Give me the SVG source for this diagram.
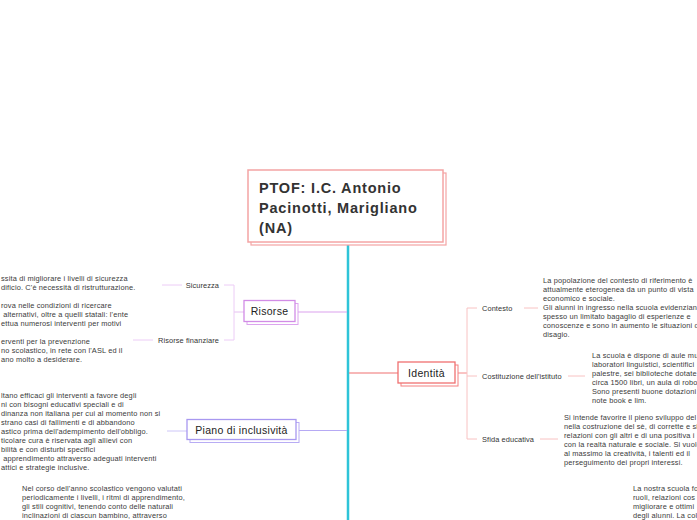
<svg xmlns="http://www.w3.org/2000/svg" width="697" height="520" viewBox="0 0 697 520">
<style>
.t{font-family:"Liberation Sans",Arial,sans-serif;font-size:7.4px;fill:#3a3a3a;letter-spacing:0.15px}
.lab{font-family:"Liberation Sans",Arial,sans-serif;font-size:7.4px;fill:#333;letter-spacing:0.1px}
.node{font-family:"Liberation Sans",Arial,sans-serif;font-size:10.5px;fill:#222;letter-spacing:0.3px;text-anchor:middle}
.title{font-family:"Liberation Sans",Arial,sans-serif;font-size:14.5px;font-weight:bold;fill:#333;letter-spacing:0.8px}
.box{fill:#fff}
.c{fill:none}
</style>
<rect width="697" height="520" fill="#fff"/>
<g id="connectors" class="c">
<line x1="348" y1="243" x2="348" y2="520" stroke="#2ec4d8" stroke-width="2.5"/>
<line x1="349" y1="373" x2="398" y2="373" stroke="#f07070" stroke-width="1.2"/>
<line x1="455" y1="373" x2="467" y2="373" stroke="#f48888" stroke-width="1"/>
<path d="M477 308H467V439H477M467 376H477" stroke="#f8c2c2" stroke-width="1"/>
<line x1="524" y1="308" x2="538" y2="308" stroke="#f8c2c2"/>
<line x1="568" y1="376" x2="585" y2="376" stroke="#f8c2c2"/>
<line x1="540" y1="439" x2="558" y2="439" stroke="#f8c2c2"/>
<line x1="298" y1="312" x2="347" y2="312" stroke="#dba2ee" stroke-width="1.2"/>
<line x1="234" y1="312" x2="244" y2="312" stroke="#e6c0f2"/>
<path d="M224 285H234V340H224" stroke="#ecccf6" stroke-width="1"/>
<line x1="162" y1="285" x2="182" y2="285" stroke="#ecccf6"/>
<line x1="133" y1="340" x2="153" y2="340" stroke="#ecccf6"/>
<line x1="299" y1="430.5" x2="347" y2="430.5" stroke="#b6aaf4" stroke-width="1.2"/>
<line x1="167" y1="431" x2="187" y2="431" stroke="#cdc6f8"/>
</g>
<g id="node-root">
<rect x="251" y="173" width="195" height="72" class="box" stroke="#f4a4a4" stroke-width="1.2"/>
<rect x="248" y="170" width="195" height="72" class="box" stroke="#f4a4a4" stroke-width="1.5"/>
<text class="title" x="259" y="193">PTOF: I.C. Antonio</text>
<text class="title" x="259" y="213">Pacinotti, Marigliano</text>
<text class="title" x="259" y="233">(NA)</text>
</g>
<g id="node-identita">
<rect x="401" y="365" width="57" height="21" class="box" stroke="#f48080" stroke-width="1"/>
<rect x="398" y="362" width="57" height="21" class="box" stroke="#f07070" stroke-width="1.3"/>
<text class="node" x="426.5" y="376.5">Identità</text>
</g>
<g id="node-contesto">
<text class="lab" x="482" y="310.5">Contesto</text>
<text class="t"><tspan x="543" y="282.5">La popolazione del contesto di riferimento è</tspan><tspan x="543" y="291.6">attualmente eterogenea da un punto di vista</tspan><tspan x="543" y="300.7">economico e sociale.</tspan><tspan x="543" y="309.8">Gli alunni in ingresso nella scuola evidenziano</tspan><tspan x="543" y="318.9">spesso un limitato bagaglio di esperienze e</tspan><tspan x="543" y="328">conoscenze e sono in aumento le situazioni di</tspan><tspan x="543" y="337.1">disagio.</tspan></text>
</g>
<g id="node-costituzione">
<text class="lab" x="482" y="378.5">Costituzione dell'istituto</text>
<text class="t"><tspan x="592" y="357.5">La scuola è dispone di aule mu</tspan><tspan x="592" y="366.5">laboratori linguistici, scientifici</tspan><tspan x="592" y="375.5">palestre, sei biblioteche dotate</tspan><tspan x="592" y="384.5">circa 1500 libri, un aula di robo</tspan><tspan x="592" y="393.5">Sono presenti buone dotazioni</tspan><tspan x="592" y="402.5">note book e lim.</tspan></text>
</g>
<g id="node-sfida">
<text class="lab" x="482" y="441.5">Sfida educativa</text>
<text class="t"><tspan x="564" y="419.5">Si intende favorire il pieno sviluppo del</tspan><tspan x="564" y="428.5">nella costruzione del sè, di corrette e si</tspan><tspan x="564" y="437.5">relazioni con gli altri e di una positiva i</tspan><tspan x="564" y="446.5">con la realtà naturale e sociale. Si vuole</tspan><tspan x="564" y="455.5">al massimo la creatività, i talenti ed il</tspan><tspan x="564" y="464.5">perseguimento dei propri interessi.</tspan></text>
</g>
<g id="node-nostra-scuola">
<text class="t"><tspan x="633" y="490.5">La nostra scuola fo</tspan><tspan x="633" y="499.5">ruoli, relazioni cos</tspan><tspan x="633" y="508.5">migliorare e ottimi</tspan><tspan x="633" y="517.5">degli alunni. La col</tspan></text>
</g>
<g id="node-risorse">
<rect x="247" y="303.5" width="51" height="21" class="box" stroke="#dca4ee" stroke-width="1"/>
<rect x="244" y="300.5" width="51" height="21" class="box" stroke="#d28ce6" stroke-width="1.3"/>
<text class="node" x="269.5" y="314.5">Risorse</text>
</g>
<g id="node-sicurezza">
<text class="lab" x="219" y="287.5" text-anchor="end">Sicurezza</text>
<text class="t"><tspan x="1" y="281">ssita di migliorare i livelli di sicurezza</tspan><tspan x="1" y="290">dificio. C'è necessità di ristrutturazione.</tspan></text>
</g>
<g id="node-risorse-finanziare">
<text class="lab" x="219" y="342.5" text-anchor="end">Risorse finanziare</text>
<text class="t"><tspan x="1" y="308">rova nelle condizioni di ricercare</tspan><tspan x="1" y="317"> alternativi, oltre a quelli statali: l'ente</tspan><tspan x="1" y="326">ettua numerosi interventi per motivi</tspan><tspan x="1" y="344">erventi per la prevenzione</tspan><tspan x="1" y="353">no scolastico, in rete con l'ASL ed il</tspan><tspan x="1" y="362">ano molto a desiderare.</tspan></text>
</g>
<g id="node-piano">
<rect x="190" y="422.5" width="109" height="20" class="box" stroke="#b8acf4" stroke-width="1"/>
<rect x="187" y="419.5" width="109" height="20" class="box" stroke="#a898f0" stroke-width="1.3"/>
<text class="node" x="241.5" y="433.5">Piano di inclusività</text>
</g>
<g id="node-piano-text">
<text class="t"><tspan x="1" y="397.5">ltano efficaci gli interventi a favore degli</tspan><tspan x="1" y="406.5">ni con bisogni educativi speciali e di</tspan><tspan x="1" y="415.5">dinanza non italiana per cui al momento non si</tspan><tspan x="1" y="424.5">strano casi di fallimenti e di abbandono</tspan><tspan x="1" y="433.5">astico prima dell'adempimento dell'obbligo.</tspan><tspan x="1" y="442.5">ticolare cura è riservata agli allievi con</tspan><tspan x="1" y="451.5">bilità e con disturbi specifici</tspan><tspan x="1" y="460.5"> apprendimento attraverso adeguati interventi</tspan><tspan x="1" y="469.5">attici e strategie inclusive.</tspan></text>
</g>
<g id="node-valutazione">
<text class="t"><tspan x="22" y="490.5">Nel corso dell'anno scolastico vengono valutati</tspan><tspan x="22" y="499.5">periodicamente i livelli, i ritmi di apprendimento,</tspan><tspan x="22" y="508.5">gli stili cognitivi, tenendo conto delle naturali</tspan><tspan x="22" y="517.5">inclinazioni di ciascun bambino, attraverso</tspan></text>
</g>
</svg>
